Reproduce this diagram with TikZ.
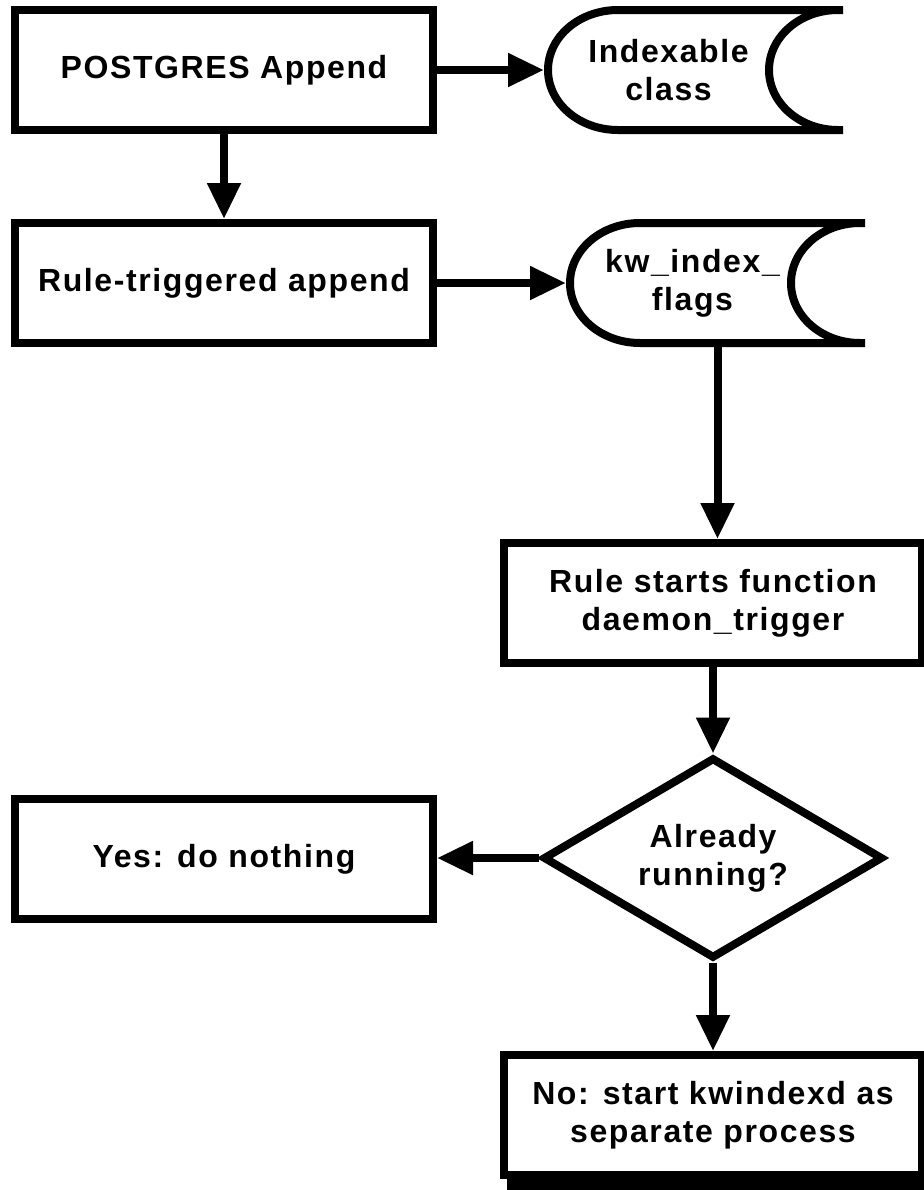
\documentclass[tikz,border=0pt]{standalone}
\usepackage{fontspec}
\setmainfont{Liberation Sans}[LetterSpace=5]
\usepackage{tikz}
\usetikzlibrary{shapes.geometric, arrows.meta, positioning, calc, shadows}

\begin{document}
\begin{tikzpicture}[x=0.5pt, y=-0.5pt]
		% Define styles for boxes, stores and arrows
		\tikzstyle{box} = [rectangle, line width=4pt, draw=black, fill=white, minimum width=209pt, minimum height=60pt, align=center, font=\bfseries\fontsize{16pt}{19pt}\selectfont]
		\tikzstyle{store} = [rectangle, minimum width=147.5pt, minimum height=60pt, outer sep=0pt]
		\tikzstyle{storetext} = [align=center, font=\bfseries\fontsize{16pt}{19pt}\selectfont]
		\tikzstyle{storeline} = [line width=4pt]
		\tikzstyle{decision} = [diamond, line width=4pt, draw=black, minimum width=170pt, minimum height=100.5pt, inner sep=0pt, aspect=1.7, align=center, font=\bfseries\fontsize{16pt}{19pt}\selectfont]
		\tikzstyle{arrow} = [line width=4pt, -{Triangle[length=18pt,width=16pt]}]
		
		\useasboundingbox (0,0) rectangle (924,1190);
		
		% Boxes of the left column
		\node[box] (append) at (224,70) {POSTGRES Append};
		\node[box] (ruleappend) at (224,283) {Rule-triggered append};
		\node[box] (nothing) at (224,859) {Yes: do nothing};
		
		% Stored data on the right
		\node[store] (indexable) at (695.5,70) {};
		\node[storetext] (indexabletext) at ([xshift=-13.5pt]indexable.center) {Indexable\\class};
		\draw[storeline] ([xshift=35pt]indexable.north west) -- (indexable.north east)
			([xshift=35pt]indexable.south west) -- (indexable.south east)
			([xshift=35pt]indexable.north west) arc[start angle=90, end angle=270, x radius=35pt, y radius=30pt]
			([xshift=-2.5pt]indexable.north east) arc[start angle=90, end angle=270, x radius=34.5pt, y radius=30pt];
		
		\node[store] (flags) at (717.5,283) {};
		\node[storetext] (flagstext) at ([xshift=-12.5pt]flags.center) {kw\_index\_\\flags};
		\draw[storeline] ([xshift=35pt]flags.north west) -- (flags.north east)
			([xshift=35pt]flags.south west) -- (flags.south east)
			([xshift=35pt]flags.north west) arc[start angle=90, end angle=270, x radius=35pt, y radius=30pt]
			([xshift=-2.5pt]flags.north east) arc[start angle=90, end angle=270, x radius=34.5pt, y radius=30pt];
		
		% Trigger, test and daemon start
		\node[box] (trigger) at (713,603) {Rule starts function\\daemon\_trigger};
		\node[decision] (running) at (713,858) {Already\\running?};
		\node[box, drop shadow={shadow xshift=1.5pt, shadow yshift=-8pt, fill=black, opacity=1}] (startd) at (713,1115) {No: start kwindexd as\\separate process};
		
		% Connect everything
		\draw [arrow] (append) -- (ruleappend);
		\draw [arrow, shorten >=2pt] (append.east) -- (indexable.west);
		\draw [arrow, shorten >=2pt] (ruleappend.east) -- (flags.west);
		\draw [arrow] (flags.south) -- (flags.south |- trigger.north);
		\draw [arrow] (trigger) -- (running);
		\draw [arrow] (running.west) -- (running.west -| nothing.east);
		\draw [arrow] (running.south) -- (startd.north);
	
	\end{tikzpicture}
\end{document}
